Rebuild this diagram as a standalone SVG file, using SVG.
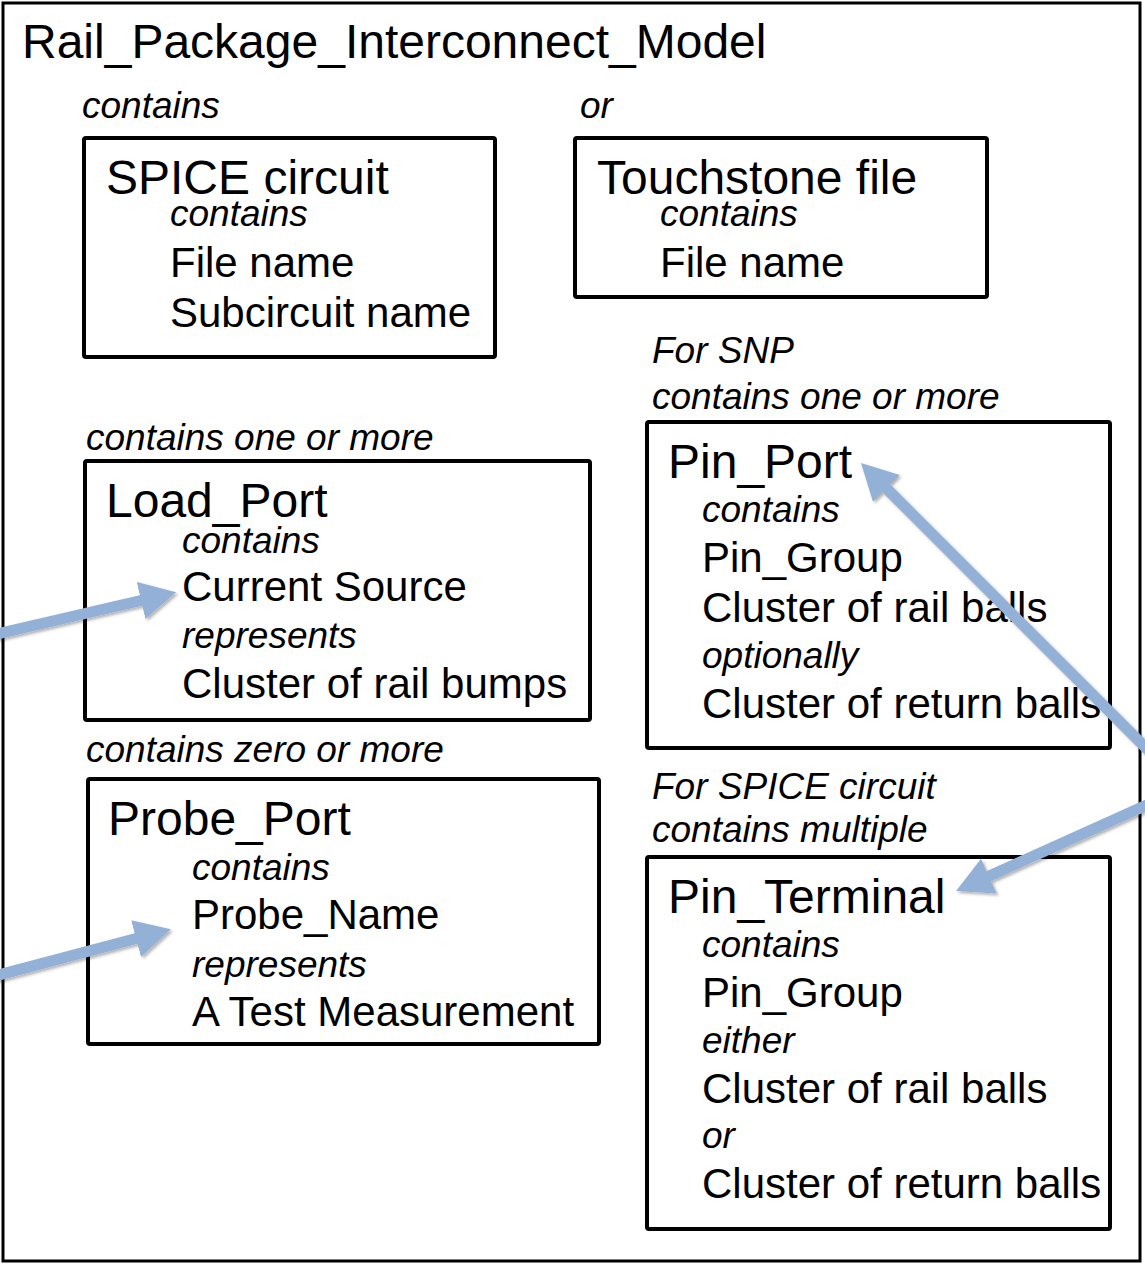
<svg xmlns="http://www.w3.org/2000/svg" width="1145" height="1265" viewBox="0 0 1145 1265">
<style>
text{font-family:"Liberation Sans",Arial,sans-serif;fill:#000}
.h{font-size:48px}
.b{font-size:42px}
.i{font-size:37px;font-style:italic}
.box{fill:none;stroke:#000;stroke-width:4}
.arr{fill:none;stroke:#93B1D7;stroke-width:11;marker-end:url(#ah)}
</style>
<defs>
<marker id="ah" markerUnits="userSpaceOnUse" markerWidth="40" markerHeight="42" refX="2" refY="20" orient="auto" viewBox="0 0 40 42">
<path d="M0,1 L36,20 L0,39 z" fill="#93B1D7"/>
</marker>
<filter id="sh" x="-10%" y="-10%" width="120%" height="120%">
<feDropShadow dx="2" dy="2" stdDeviation="1.5" flood-color="#000" flood-opacity="0.3"/>
</filter>
</defs>
<rect x="3" y="3" width="1137" height="1258" fill="#fff" stroke="#000" stroke-width="3"/>
<g id="model">
<text class="h" x="22" y="58">Rail_Package_Interconnect_Model</text>
<text class="i" x="82" y="118">contains</text>
<text class="i" x="580" y="118">or</text>
</g>
<g id="spice">
<rect class="box" x="84" y="138" width="411" height="219" rx="2"/>
<text class="h" x="106" y="194">SPICE circuit</text>
<text class="i" x="170" y="226">contains</text>
<text class="b" x="170" y="277">File name</text>
<text class="b" x="170" y="327">Subcircuit name</text>
</g>
<g id="touchstone">
<rect class="box" x="575" y="138" width="412" height="159" rx="2"/>
<text class="h" x="597" y="194">Touchstone file</text>
<text class="i" x="660" y="226">contains</text>
<text class="b" x="660" y="277">File name</text>
</g>
<g id="load_port">
<text class="i" x="86" y="450">contains one or more</text>
<rect class="box" x="85" y="461" width="505" height="259" rx="2"/>
<text class="h" x="106" y="517">Load_Port</text>
<text class="i" x="182" y="553">contains</text>
<text class="b" x="182" y="601">Current Source</text>
<text class="i" x="182" y="648">represents</text>
<text class="b" x="182" y="698">Cluster of rail bumps</text>
</g>
<g id="probe_port">
<text class="i" x="86" y="762">contains zero or more</text>
<rect class="box" x="88" y="779" width="511" height="265" rx="2"/>
<text class="h" x="108" y="835">Probe_Port</text>
<text class="i" x="192" y="880">contains</text>
<text class="b" x="192" y="929">Probe_Name</text>
<text class="i" x="192" y="977">represents</text>
<text class="b" x="192" y="1026">A Test Measurement</text>
</g>
<g id="pin_port">
<text class="i" x="652" y="363">For SNP</text>
<text class="i" x="652" y="409">contains one or more</text>
<rect class="box" x="647" y="422" width="463" height="326" rx="2"/>
<text class="h" x="668" y="478">Pin_Port</text>
<text class="i" x="702" y="522">contains</text>
<text class="b" x="702" y="572">Pin_Group</text>
<text class="b" x="702" y="622">Cluster of rail balls</text>
<text class="i" x="702" y="668">optionally</text>
<text class="b" x="702" y="718">Cluster of return balls</text>
</g>
<g id="pin_terminal">
<text class="i" x="652" y="799">For SPICE circuit</text>
<text class="i" x="652" y="842">contains multiple</text>
<rect class="box" x="647" y="857" width="463" height="372" rx="2"/>
<text class="h" x="668" y="913">Pin_Terminal</text>
<text class="i" x="702" y="957">contains</text>
<text class="b" x="702" y="1007">Pin_Group</text>
<text class="i" x="702" y="1053">either</text>
<text class="b" x="702" y="1103">Cluster of rail balls</text>
<text class="i" x="702" y="1148">or</text>
<text class="b" x="702" y="1198">Cluster of return balls</text>
</g>
<g id="connectors" filter="url(#sh)">
<line class="arr" x1="-20" y1="638" x2="143" y2="600"/>
<line class="arr" x1="-20" y1="980" x2="138" y2="938"/>
<line class="arr" x1="1180" y1="782" x2="885" y2="487"/>
<line class="arr" x1="1180" y1="790" x2="987" y2="877"/>
</g>
</svg>
